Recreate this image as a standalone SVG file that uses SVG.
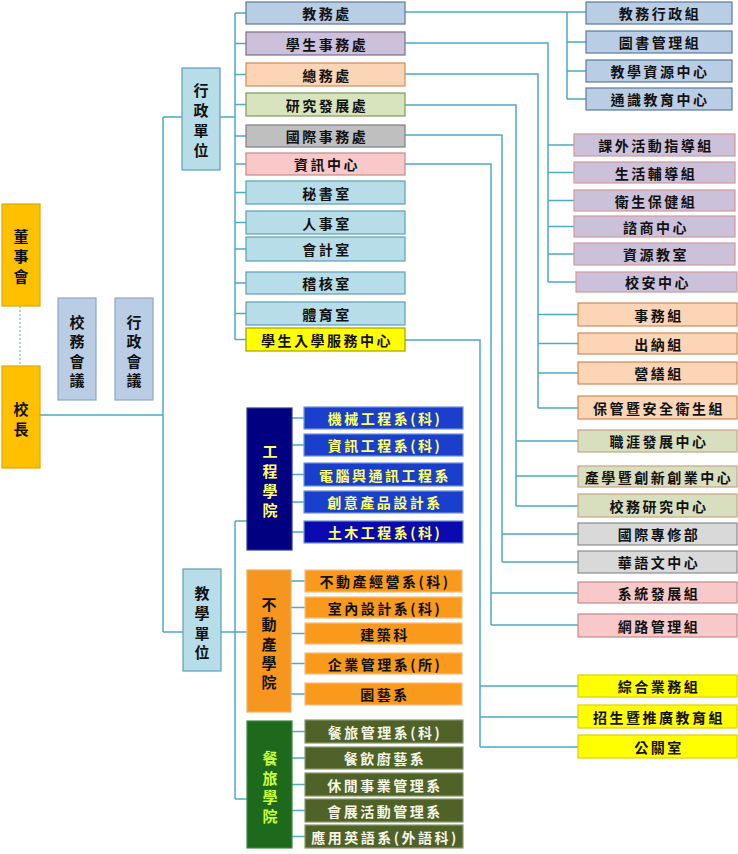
<svg xmlns="http://www.w3.org/2000/svg" width="738" height="854" viewBox="0 0 738 854">
<style>
text{font-family:"Noto Sans CJK TC","Noto Sans CJK SC",sans-serif;font-weight:700;font-size:14px;fill:#111;text-anchor:middle;dominant-baseline:central;letter-spacing:2.5px}
.v{font-size:15px;letter-spacing:0}
rect{stroke-width:1.2}
.top{fill:#FFC000;stroke:#E0A800}
.meet{fill:#B9CDE5;stroke:#8EA6C4}
.unit{fill:#B7DEE8;stroke:#5E9FB5}
.jw{fill:#B9CDE5;stroke:#5A7A9A}
.xw{fill:#CCC1DA;stroke:#7A6E90}
.xw2{fill:#CCC1DA;stroke:#D29A9A}
.zw{fill:#FBD5B5;stroke:#D08A55}
.yf{fill:#D7E4BD;stroke:#7F9A5A}
.yf2{fill:#D8DFBE;stroke:#C9A585}
.gj{fill:#BFBFBF;stroke:#7F7F7F}
.gj2{fill:#D9D9D9;stroke:#8C8C8C}
.zx{fill:#F9C9C9;stroke:#C08A8A}
.yel{fill:#FFFF00;stroke:#A0A000}
.yel2{fill:#FFFF00;stroke:#E0D000}
.eng{fill:#000080;stroke:#2A3A9A}
.engd{fill:#1A3FCC;stroke:#6F94D8}
.engd2{fill:#0A0AB0;stroke:#6F94D8}
.re{fill:#F7961E;stroke:#F0B060}
.red{fill:#F99A1C;stroke:#F6C080}
.ht{fill:#1D6A1D;stroke:#3C8A3C}
.htd{fill:#4F6228;stroke:#8A9A70}
.ty{fill:#FFFF66}
.tw{fill:#F5F5E6}
.tg{fill:#CCFF33}
#connectors path{fill:none;stroke:#4BACC6;stroke-width:1.5}
</style>

<g id="connectors">
<path d="M20,306 V366" style="stroke:#7FB3C4;stroke-dasharray:2,2;stroke-width:1.2"/>
<path d="M40,415 H163 M163,117 V632 M163,117 H182 M220,117 H235 M163,632 H183 M221,632 H247"/>
<path d="M235,13 V339.5 M235,13 H246 M235,43.5 H246 M235,74.5 H246 M235,104.5 H246 M235,136 H246 M235,164 H246 M235,192.5 H246 M235,222.5 H246 M235,249 H246 M235,283 H246 M235,313.5 H246 M235,339.5 H246"/>
<path d="M405,12 H586 M567,12 V99 M567,42 H586 M567,71 H586 M567,99 H586"/>
<path d="M405,43 H548 V282 M548,145 H574 M548,172.5 H574 M548,200.5 H574 M548,226.5 H574 M548,254 H574 M548,282 H576"/>
<path d="M405,74 H538 V408 M538,314.5 H578 M538,343.5 H578 M538,373 H578 M538,408 H578"/>
<path d="M405,105 H516 V506 M516,441 H578 M516,476 H578 M516,506 H578"/>
<path d="M405,135 H502 V562 M502,534 H578 M502,562 H578"/>
<path d="M405,164 H491 V625 M491,593 H578 M491,625 H578"/>
<path d="M405,340 H480 V747 M480,686 H578 M480,717 H578 M480,747 H578"/>
<path d="M235,521 V799 M235,521 H247 M235,799 H247"/>
<path d="M292,418 H304 M292,445 H304 M292,474.5 H304 M292,502 H304 M292,532 H304"/>
<path d="M291,581 H305 M291,607.5 H305 M291,633.5 H305 M291,663.5 H305 M291,694 H305"/>
<path d="M292,731.5 H305 M292,758 H305 M292,784.5 H305 M292,810.5 H305 M292,836.5 H305"/>
</g>

<g id="board"><rect class="top" x="2" y="204" width="38" height="102"/><text class="v" x="21"><tspan x="21" y="235">董</tspan><tspan x="21" y="255">事</tspan><tspan x="21" y="275">會</tspan></text></g>
<g id="president"><rect class="top" x="2" y="366" width="38" height="102"/><text class="v"><tspan x="21" y="408">校</tspan><tspan x="21" y="428">長</tspan></text></g>
<g id="school-affairs-meeting"><rect class="meet" x="58" y="298" width="38" height="102"/><text class="v"><tspan x="77" y="321">校</tspan><tspan x="77" y="340">務</tspan><tspan x="77" y="360">會</tspan><tspan x="77" y="379">議</tspan></text></g>
<g id="admin-meeting"><rect class="meet" x="115" y="298" width="38" height="102"/><text class="v"><tspan x="134" y="321">行</tspan><tspan x="134" y="340">政</tspan><tspan x="134" y="360">會</tspan><tspan x="134" y="379">議</tspan></text></g>
<g id="admin-units"><rect class="unit" x="182" y="68" width="38" height="102"/><text class="v"><tspan x="201" y="89">行</tspan><tspan x="201" y="109">政</tspan><tspan x="201" y="129">單</tspan><tspan x="201" y="149">位</tspan></text></g>
<g id="teaching-units"><rect class="unit" x="183" y="569" width="38" height="102"/><text class="v"><tspan x="202" y="592">教</tspan><tspan x="202" y="612">學</tspan><tspan x="202" y="632">單</tspan><tspan x="202" y="651">位</tspan></text></g>

<g id="academic-affairs"><rect class="jw" x="246" y="2" width="159" height="22"/><text x="327" y="13">教務處</text></g>
<g id="student-affairs"><rect class="xw" x="246" y="32" width="159" height="23"/><text x="327" y="43.5">學生事務處</text></g>
<g id="general-affairs"><rect class="zw" x="246" y="63" width="159" height="23"/><text x="327" y="74.5">總務處</text></g>
<g id="research"><rect class="yf" x="246" y="93" width="159" height="23"/><text x="327" y="104.5">研究發展處</text></g>
<g id="international"><rect class="gj" x="246" y="125" width="159" height="22"/><text x="327" y="136">國際事務處</text></g>
<g id="computer-center"><rect class="zx" x="246" y="153" width="159" height="22"/><text x="327" y="164">資訊中心</text></g>
<g id="secretariat"><rect class="unit" x="246" y="181" width="159" height="23"/><text x="327" y="192.5">秘書室</text></g>
<g id="personnel"><rect class="unit" x="246" y="211" width="159" height="23"/><text x="327" y="222.5">人事室</text></g>
<g id="accounting"><rect class="unit" x="246" y="237" width="159" height="24"/><text x="327" y="249">會計室</text></g>
<g id="audit"><rect class="unit" x="246" y="272" width="159" height="22"/><text x="327" y="283">稽核室</text></g>
<g id="sports"><rect class="unit" x="246" y="302" width="159" height="23"/><text x="327" y="313.5">體育室</text></g>
<g id="admission-center"><rect class="yel" x="246" y="328" width="159" height="23"/><text x="327" y="339.5">學生入學服務中心</text></g>

<g id="aa1"><rect class="jw" x="586" y="2" width="146" height="22"/><text x="660" y="13">教務行政組</text></g>
<g id="aa2"><rect class="jw" x="586" y="31" width="146" height="22"/><text x="660" y="42">圖書管理組</text></g>
<g id="aa3"><rect class="jw" x="586" y="60" width="146" height="22"/><text x="660" y="71">教學資源中心</text></g>
<g id="aa4"><rect class="jw" x="586" y="88" width="146" height="22"/><text x="660" y="99">通識教育中心</text></g>

<g id="sa1"><rect class="xw2" x="574" y="134" width="161" height="22"/><text x="656" y="145">課外活動指導組</text></g>
<g id="sa2"><rect class="xw2" x="574" y="162" width="161" height="21"/><text x="656" y="172.5">生活輔導組</text></g>
<g id="sa3"><rect class="xw2" x="574" y="190" width="161" height="21"/><text x="656" y="200.5">衛生保健組</text></g>
<g id="sa4"><rect class="xw2" x="574" y="216" width="161" height="21"/><text x="656" y="226.5">諮商中心</text></g>
<g id="sa5"><rect class="xw2" x="574" y="243" width="161" height="22"/><text x="656" y="254">資源教室</text></g>
<g id="sa6"><rect class="xw2" x="576" y="272" width="161" height="20"/><text x="658" y="282">校安中心</text></g>

<g id="ga1"><rect class="zw" x="578" y="303" width="159" height="23"/><text x="659" y="314.5">事務組</text></g>
<g id="ga2"><rect class="zw" x="578" y="333" width="159" height="21"/><text x="659" y="343.5">出納組</text></g>
<g id="ga3"><rect class="zw" x="578" y="362" width="159" height="22"/><text x="659" y="373">營繕組</text></g>
<g id="ga4"><rect class="zw" x="578" y="396" width="159" height="23"/><text x="659" y="407.5">保管暨安全衛生組</text></g>

<g id="rd1"><rect class="yf2" x="578" y="430" width="159" height="22"/><text x="659" y="441">職涯發展中心</text></g>
<g id="rd2"><rect class="yf2" x="578" y="466" width="159" height="21"/><text x="659" y="476.5">產學暨創新創業中心</text></g>
<g id="rd3"><rect class="yf2" x="578" y="494" width="159" height="23"/><text x="659" y="505.5">校務研究中心</text></g>

<g id="ia1"><rect class="gj2" x="578" y="523" width="159" height="22"/><text x="659" y="534">國際專修部</text></g>
<g id="ia2"><rect class="gj2" x="578" y="551" width="159" height="22"/><text x="659" y="562">華語文中心</text></g>

<g id="cc1"><rect class="zx" x="578" y="582" width="159" height="21"/><text x="659" y="592.5">系統發展組</text></g>
<g id="cc2"><rect class="zx" x="578" y="614" width="159" height="23"/><text x="659" y="625.5">網路管理組</text></g>

<g id="ad1"><rect class="yel2" x="578" y="675" width="159" height="22"/><text x="659" y="686">綜合業務組</text></g>
<g id="ad2"><rect class="yel2" x="578" y="705" width="159" height="23"/><text x="659" y="716.5">招生暨推廣教育組</text></g>
<g id="ad3"><rect class="yel2" x="578" y="735" width="159" height="23"/><text x="659" y="746.5">公關室</text></g>

<g id="college-eng"><rect class="eng" x="247" y="408" width="45" height="142"/><text class="v ty"><tspan x="270" y="450">工</tspan><tspan x="270" y="470">程</tspan><tspan x="270" y="490">學</tspan><tspan x="270" y="509">院</tspan></text></g>
<g id="eng1"><rect class="engd" x="304" y="407" width="159" height="22"/><text class="ty" x="385" y="418">機械工程系(科)</text></g>
<g id="eng2"><rect class="engd" x="304" y="434" width="159" height="22"/><text class="ty" x="385" y="445">資訊工程系(科)</text></g>
<g id="eng3"><rect class="engd" x="304" y="463" width="159" height="23"/><text class="ty" x="385" y="474.5">電腦與通訊工程系</text></g>
<g id="eng4"><rect class="engd" x="304" y="491" width="159" height="22"/><text class="ty" x="385" y="502">創意產品設計系</text></g>
<g id="eng5"><rect class="engd2" x="304" y="521" width="159" height="22"/><text class="ty" x="385" y="532">土木工程系(科)</text></g>

<g id="college-re"><rect class="re" x="247" y="570" width="44" height="142"/><text class="v"><tspan x="269" y="603">不</tspan><tspan x="269" y="623">動</tspan><tspan x="269" y="643">產</tspan><tspan x="269" y="662">學</tspan><tspan x="269" y="681">院</tspan></text></g>
<g id="re1"><rect class="red" x="305" y="570" width="157" height="22"/><text x="385" y="581">不動產經營系(科)</text></g>
<g id="re2"><rect class="red" x="305" y="597" width="157" height="21"/><text x="385" y="607.5">室內設計系(科)</text></g>
<g id="re3"><rect class="red" x="305" y="623" width="157" height="21"/><text x="385" y="633.5">建築科</text></g>
<g id="re4"><rect class="red" x="305" y="653" width="157" height="21"/><text x="385" y="663.5">企業管理系(所)</text></g>
<g id="re5"><rect class="red" x="305" y="683" width="157" height="22"/><text x="385" y="694">園藝系</text></g>

<g id="college-ht"><rect class="ht" x="247" y="721" width="45" height="127"/><text class="v tg"><tspan x="270" y="757">餐</tspan><tspan x="270" y="777">旅</tspan><tspan x="270" y="796">學</tspan><tspan x="270" y="815">院</tspan></text></g>
<g id="ht1"><rect class="htd" x="305" y="720" width="158" height="23"/><text class="tw" x="385" y="731.5">餐旅管理系(科)</text></g>
<g id="ht2"><rect class="htd" x="305" y="747" width="158" height="22"/><text class="tw" x="385" y="758">餐飲廚藝系</text></g>
<g id="ht3"><rect class="htd" x="305" y="773" width="158" height="23"/><text class="tw" x="385" y="784.5">休閒事業管理系</text></g>
<g id="ht4"><rect class="htd" x="305" y="799" width="158" height="23"/><text class="tw" x="385" y="810.5">會展活動管理系</text></g>
<g id="ht5"><rect class="htd" x="305" y="825" width="158" height="23"/><text class="tw" x="385" y="836.5">應用英語系(外語科)</text></g>
</svg>
